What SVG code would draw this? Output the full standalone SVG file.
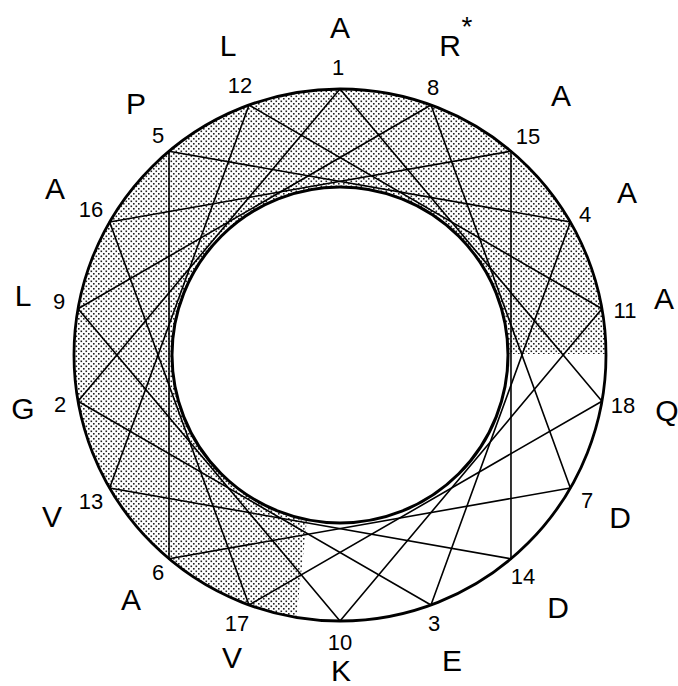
<svg xmlns="http://www.w3.org/2000/svg" width="678" height="686" viewBox="0 0 678 686">
  <style>
    .num { font-family: "Liberation Sans", Arial, sans-serif; font-size: 22px; fill: #000; text-anchor: middle; }
    .aa { font-family: "Liberation Sans", Arial, sans-serif; font-size: 30px; fill: #000; text-anchor: middle; }
    .chord { stroke: #000; stroke-width: 1.6; fill: none; stroke-linecap: round; }
    .ring { stroke: #000; fill: none; }
  </style>
  <defs>
    <pattern id="stipple" width="5" height="5" patternUnits="userSpaceOnUse">
      <rect x="0.5" y="0.5" width="1.6" height="1.6" fill="#222"/>
      <rect x="3" y="3" width="1.6" height="1.6" fill="#222"/>
    </pattern>
    <clipPath id="face">
      <polygon points="0,0 678,0 678,354 340,354 308,510 289,686 0,686"/>
    </clipPath>
  </defs>
  <rect width="678" height="686" fill="#fff"/>

  <g id="hydrophobic-face">
    <path clip-path="url(#face)" fill="url(#stipple)" fill-rule="evenodd"
      d="M340 89 A266 266 0 1 0 340 621 A266 266 0 1 0 340 89 Z M340 187 A168 168 0 1 0 340 523 A168 168 0 1 0 340 187 Z"/>
  </g>

  <g id="connectors">
    <line class="chord" x1="340" y1="89" x2="78.04" y2="401.19"/>
    <line class="chord" x1="78.04" y1="401.19" x2="430.97" y2="604.96"/>
    <line class="chord" x1="430.97" y1="604.96" x2="570.36" y2="222"/>
    <line class="chord" x1="570.36" y1="222" x2="169.02" y2="151.24"/>
    <line class="chord" x1="169.02" y1="151.24" x2="169.02" y2="558.76"/>
    <line class="chord" x1="169.02" y1="558.76" x2="570.36" y2="488"/>
    <line class="chord" x1="570.36" y1="488" x2="430.97" y2="105.04"/>
    <line class="chord" x1="430.97" y1="105.04" x2="78.04" y2="308.81"/>
    <line class="chord" x1="78.04" y1="308.81" x2="340" y2="621"/>
    <line class="chord" x1="340" y1="621" x2="601.96" y2="308.81"/>
    <line class="chord" x1="601.96" y1="308.81" x2="249.03" y2="105.04"/>
    <line class="chord" x1="249.03" y1="105.04" x2="109.64" y2="488"/>
    <line class="chord" x1="109.64" y1="488" x2="510.98" y2="558.76"/>
    <line class="chord" x1="510.98" y1="558.76" x2="510.98" y2="151.24"/>
    <line class="chord" x1="510.98" y1="151.24" x2="109.64" y2="222"/>
    <line class="chord" x1="109.64" y1="222" x2="249.03" y2="604.96"/>
    <line class="chord" x1="249.03" y1="604.96" x2="601.96" y2="401.19"/>
    <line class="chord" x1="601.96" y1="401.19" x2="340" y2="89"/>
  </g>

  <g id="rings">
    <circle class="ring" cx="340" cy="355" r="266" stroke-width="2.8"/>
    <circle class="ring" cx="340" cy="355" r="168" stroke-width="3"/>
  </g>

  <g id="res1"><text class="num" x="338" y="75">1</text><text class="aa" x="340" y="38">A</text></g>
  <g id="res8"><text class="num" x="433" y="95">8</text><text class="aa" x="450" y="56">R</text><text class="num" x="467" y="36" style="font-size:28px">*</text></g>
  <g id="res15"><text class="num" x="528" y="144">15</text><text class="aa" x="561" y="106">A</text></g>
  <g id="res4"><text class="num" x="585" y="222">4</text><text class="aa" x="627" y="203">A</text></g>
  <g id="res11"><text class="num" x="625" y="318">11</text><text class="aa" x="664" y="309">A</text></g>
  <g id="res18"><text class="num" x="623" y="413">18</text><text class="aa" x="667" y="421">Q</text></g>
  <g id="res7"><text class="num" x="587" y="508">7</text><text class="aa" x="620" y="528">D</text></g>
  <g id="res14"><text class="num" x="523" y="584">14</text><text class="aa" x="558" y="618">D</text></g>
  <g id="res3"><text class="num" x="434" y="631">3</text><text class="aa" x="452" y="671">E</text></g>
  <g id="res10"><text class="num" x="340" y="650">10</text><text class="aa" x="341" y="681">K</text></g>
  <g id="res17"><text class="num" x="237" y="631">17</text><text class="aa" x="232" y="668">V</text></g>
  <g id="res6"><text class="num" x="158" y="580">6</text><text class="aa" x="131" y="610">A</text></g>
  <g id="res13"><text class="num" x="91" y="509">13</text><text class="aa" x="52" y="527">V</text></g>
  <g id="res2"><text class="num" x="60" y="412">2</text><text class="aa" x="23" y="419">G</text></g>
  <g id="res9"><text class="num" x="59" y="309">9</text><text class="aa" x="23" y="306">L</text></g>
  <g id="res16"><text class="num" x="91" y="217">16</text><text class="aa" x="55" y="199">A</text></g>
  <g id="res5"><text class="num" x="158" y="143">5</text><text class="aa" x="136" y="114">P</text></g>
  <g id="res12"><text class="num" x="240" y="93">12</text><text class="aa" x="228" y="56">L</text></g>
</svg>
